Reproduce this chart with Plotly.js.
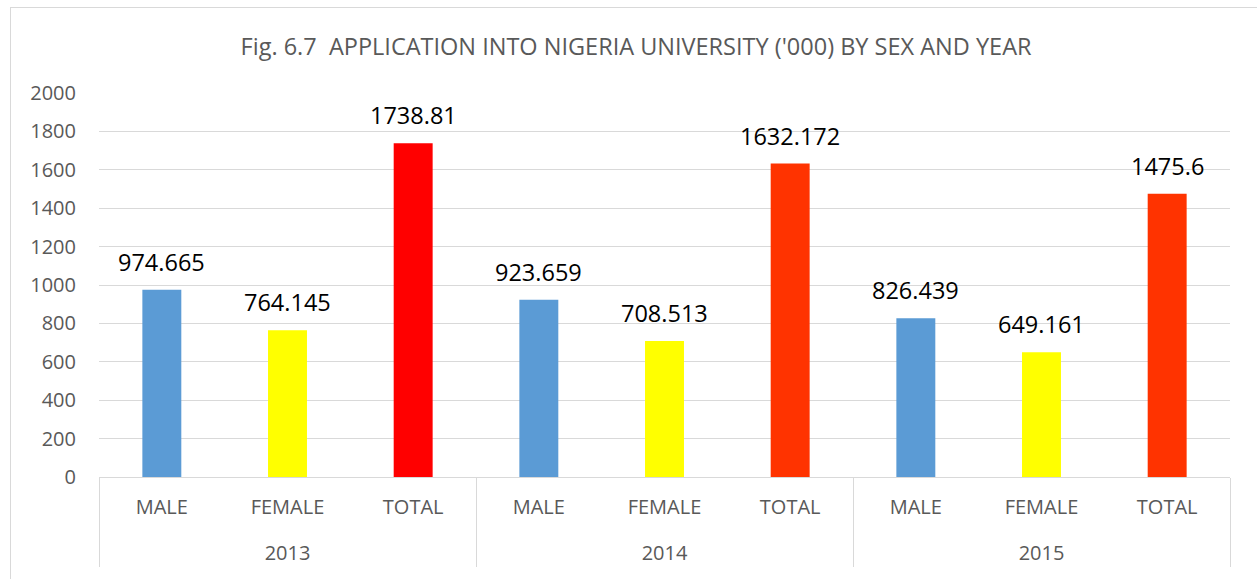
<!DOCTYPE html>
<html>
<head>
<meta charset="utf-8">
<script src="https://cdn.plot.ly/plotly-3.0.1.min.js"></script>
<style>
  html, body { margin: 0; padding: 0; background: #fff; }
  #wrap { position: relative; width: 1257px; height: 579px; overflow: hidden; }
  #chart { width: 1257px; height: 579px; }
  #frame { position: absolute; left: 10px; top: 7px; width: 1300px; height: 600px;
           border-left: 1px solid #d9d9d9; border-top: 1px solid #d9d9d9; pointer-events: none; }
</style>
</head>
<body>
<div id="wrap">
  <div id="chart"></div>
  <div id="frame"></div>
</div>
<script>
const years = ["2013", "2013", "2013", "2014", "2014", "2014", "2015", "2015", "2015"];
const categories = ["MALE", "FEMALE", "TOTAL", "MALE", "FEMALE", "TOTAL", "MALE", "FEMALE", "TOTAL"];
const values = [974.665, 764.145, 1738.81, 923.659, 708.513, 1632.172, 826.439, 649.161, 1475.6];
const labels = ["974.665", "764.145", "1738.81", "923.659", "708.513", "1632.172", "826.439", "649.161", "1475.6"];

const colorFor = (cat, yr) => {
  if (cat === "MALE") return "#5B9BD5";
  if (cat === "FEMALE") return "#FFFF00";
  return yr === "2013" ? "#FF0000" : "#FF3300";
};
const colors = categories.map((c, i) => colorFor(c, years[i]));

// first-level labels get a trailing spacer line so the year row sits lower, as in the reference
const catDisplay = categories.map(c => c + "<br><span style='font-size:31px'> </span>");

const font = "Open Sans, Liberation Sans, sans-serif";

const annotations = values.map((v, i) => ({
  x: i, y: v, xref: "x", yref: "y",
  text: labels[i], showarrow: false,
  xanchor: "center", yanchor: "bottom", yshift: 10,
  font: { family: font, size: 23.5, color: "#000000" }
}));

Plotly.newPlot("chart", [{
  type: "bar",
  x: [years, catDisplay],
  y: values,
  marker: { color: colors, line: { width: 0 } },
  width: 0.31,
  hoverinfo: "y"
}], {
  width: 1257,
  height: 579,
  margin: { l: 99, r: 27, t: 93, b: 102 },
  paper_bgcolor: "#ffffff",
  plot_bgcolor: "#ffffff",
  showlegend: false,
  annotations: annotations,
  title: {
    text: "Fig. 6.7  APPLICATION INTO NIGERIA UNIVERSITY ('000) BY SEX AND YEAR",
    font: { family: font, size: 23.5, color: "#595959" },
    x: 0.506, xanchor: "center", xref: "container",
    y: 46, yref: "container", yanchor: "middle"
  },
  xaxis: {
    type: "multicategory",
    showline: true,
    linecolor: "#d9d9d9",
    linewidth: 1,
    showgrid: false,
    showdividers: true,
    dividercolor: "#d9d9d9",
    dividerwidth: 1,
    ticks: "",
    ticklabelstandoff: 12,
    tickfont: { family: font, size: 20, color: "#595959" }
  },
  yaxis: {
    range: [0, 2000],
    dtick: 200,
    tick0: 0,
    showgrid: true,
    gridcolor: "#d9d9d9",
    gridwidth: 1,
    zeroline: false,
    showline: false,
    ticks: "",
    ticklabelstandoff: 22,
    tickfont: { family: font, size: 20, color: "#595959" }
  }
}, { displayModeBar: false, staticPlot: true });
</script>
</body>
</html>
